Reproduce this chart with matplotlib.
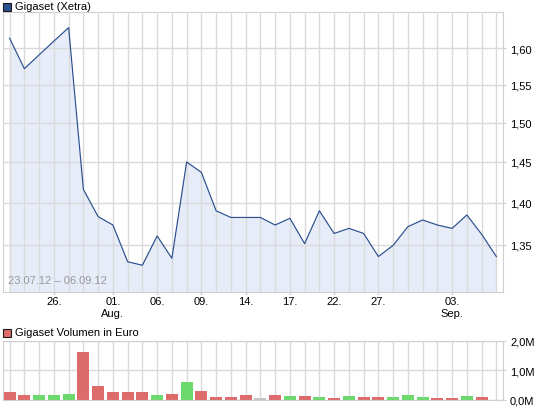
import matplotlib
matplotlib.use("Agg")
import matplotlib.pyplot as plt
import matplotlib.ticker as ticker
from matplotlib.patches import Rectangle

plt.rcParams['font.family'] = ['Liberation Sans', 'DejaVu Sans']

# Kursdaten Gigaset (Xetra), 23.07.12 - 06.09.12 (34 Handelstage)
kurse = [1.614, 1.572, 1.591, 1.610, 1.629, 1.416, 1.383, 1.373, 1.330, 1.326,
         1.360, 1.334, 1.450, 1.437, 1.390, 1.382, 1.382, 1.382, 1.373, 1.381,
         1.351, 1.390, 1.363, 1.369, 1.363, 1.336, 1.349, 1.371, 1.379, 1.373,
         1.369, 1.385, 1.362, 1.336]

# Volumen in Mio. Euro (letzter Tag ohne Balken)
volumen = [0.28, 0.17, 0.17, 0.17, 0.21, 1.61, 0.48, 0.28, 0.28, 0.28,
           0.17, 0.21, 0.62, 0.31, 0.10, 0.10, 0.17, 0.07, 0.17, 0.14,
           0.14, 0.10, 0.07, 0.14, 0.10, 0.10, 0.10, 0.17, 0.10, 0.07,
           0.07, 0.14, 0.10]
richtung = ['d', 'd', 'u', 'u', 'u', 'd', 'd', 'd', 'd', 'd',
            'u', 'd', 'u', 'd', 'd', 'd', 'd', 'n', 'd', 'u',
            'd', 'u', 'd', 'u', 'd', 'd', 'u', 'u', 'u', 'd',
            'd', 'u', 'd']

x_ticks = [3, 7, 10, 13, 16, 19, 22, 25, 30]
x_labels = ["26.", "01.\nAug.", "06.", "09.", "14.", "17.", "22.", "27.", "03.\nSep."]
y_ticks = [1.35, 1.40, 1.45, 1.50, 1.55, 1.60]
vol_ticks = [0, 1.0, 2.0]

farben = {'u': '#6cd96c', 'd': '#dd6b6b', 'n': '#c4c4c4'}
grid_c = '#dadada'
rand_c = '#cfcfcf'

W, H = 545, 410
fig = plt.figure(figsize=(W / 100, H / 100), dpi=100)


def box(l, t, r, b):
    return [l / W, 1 - b / H, (r - l) / W, (b - t) / H]


# Kurs-Chart
ax = fig.add_axes(box(3, 13.3, 503, 293))
x = list(range(len(kurse)))
ax.fill_between(x, kurse, 1.0, color='#e6ecf8', zorder=0, linewidth=0)
ax.plot(x, kurse, color='#2b4f8f', linewidth=0.85, zorder=3)
ax.set_yscale('log')
ax.set_ylim(1.2956, 1.6507)
ax.set_xlim(-0.45, len(kurse) - 1 + 0.45)
ax.yaxis.set_major_locator(ticker.FixedLocator(y_ticks))
ax.yaxis.set_minor_locator(ticker.NullLocator())
ax.set_yticklabels([f"{v:.2f}".replace('.', ',') for v in y_ticks])
ax.yaxis.tick_right()
ax.xaxis.set_major_locator(ticker.FixedLocator(x))
ax.xaxis.set_minor_locator(ticker.NullLocator())
ax.set_xticklabels([""] * len(x))
ax.grid(True, color=grid_c, linewidth=1.0, zorder=1)
ax.set_axisbelow(False)
for gl in ax.get_xgridlines() + ax.get_ygridlines():
    gl.set_zorder(1)
ax.tick_params(axis='x', length=0)
ax.tick_params(axis='y', length=2, color=rand_c, labelsize=8, pad=3)
for s in ax.spines.values():
    s.set_color(rand_c)
# Beschriftung der Datumsachse
for pos, lab in zip(x_ticks, x_labels):
    ax.annotate(lab, (pos, 0), xycoords=('data', 'axes fraction'),
                xytext=(0, -3), textcoords='offset points',
                ha='center', va='top', fontsize=8, linespacing=1.25)
    ax.plot([pos, pos], [0, -0.008], transform=ax.get_xaxis_transform(),
            color=rand_c, linewidth=1, clip_on=False)
ax.text(0.01, 0.025, "23.07.12 \u2013 06.09.12", transform=ax.transAxes,
        color='#999999', fontsize=8, ha='left', va='bottom')

# Volumen-Chart
av = fig.add_axes(box(3, 341.7, 503, 401))
vx = list(range(len(volumen)))
av.bar(vx, volumen, width=0.8, color=[farben[r] for r in richtung], zorder=2)
av.set_xlim(-0.45, len(kurse) - 1 + 0.45)
av.set_ylim(0, 2.0)
av.xaxis.set_major_locator(ticker.FixedLocator(x))
av.set_xticklabels([""] * len(x))
av.yaxis.set_major_locator(ticker.FixedLocator(vol_ticks))
av.set_yticklabels([f"{v:.1f}M".replace('.', ',') for v in vol_ticks])
av.yaxis.tick_right()
av.grid(True, color=grid_c, linewidth=1.0, zorder=0)
av.set_axisbelow(True)
av.tick_params(axis='x', length=0)
av.tick_params(axis='y', length=2, color=rand_c, labelsize=8, pad=3)
for s in av.spines.values():
    s.set_color(rand_c)

# Legenden
fig.patches.append(Rectangle((3 / W, 1 - 11.5 / H), 8 / W, 8 / H, transform=fig.transFigure,
                             facecolor='#2b4f8f', edgecolor='#1a1a1a', linewidth=0.8))
fig.text(15 / W, 1 - 7.5 / H, "Gigaset (Xetra)", fontsize=8, va='center', ha='left')
fig.patches.append(Rectangle((3 / W, 1 - 337.5 / H), 8 / W, 8 / H, transform=fig.transFigure,
                             facecolor='#dd6b6b', edgecolor='#1a1a1a', linewidth=0.8))
fig.text(15 / W, 1 - 333.5 / H, "Gigaset Volumen in Euro", fontsize=8, va='center', ha='left')

fig.savefig("out.png", dpi=100)
